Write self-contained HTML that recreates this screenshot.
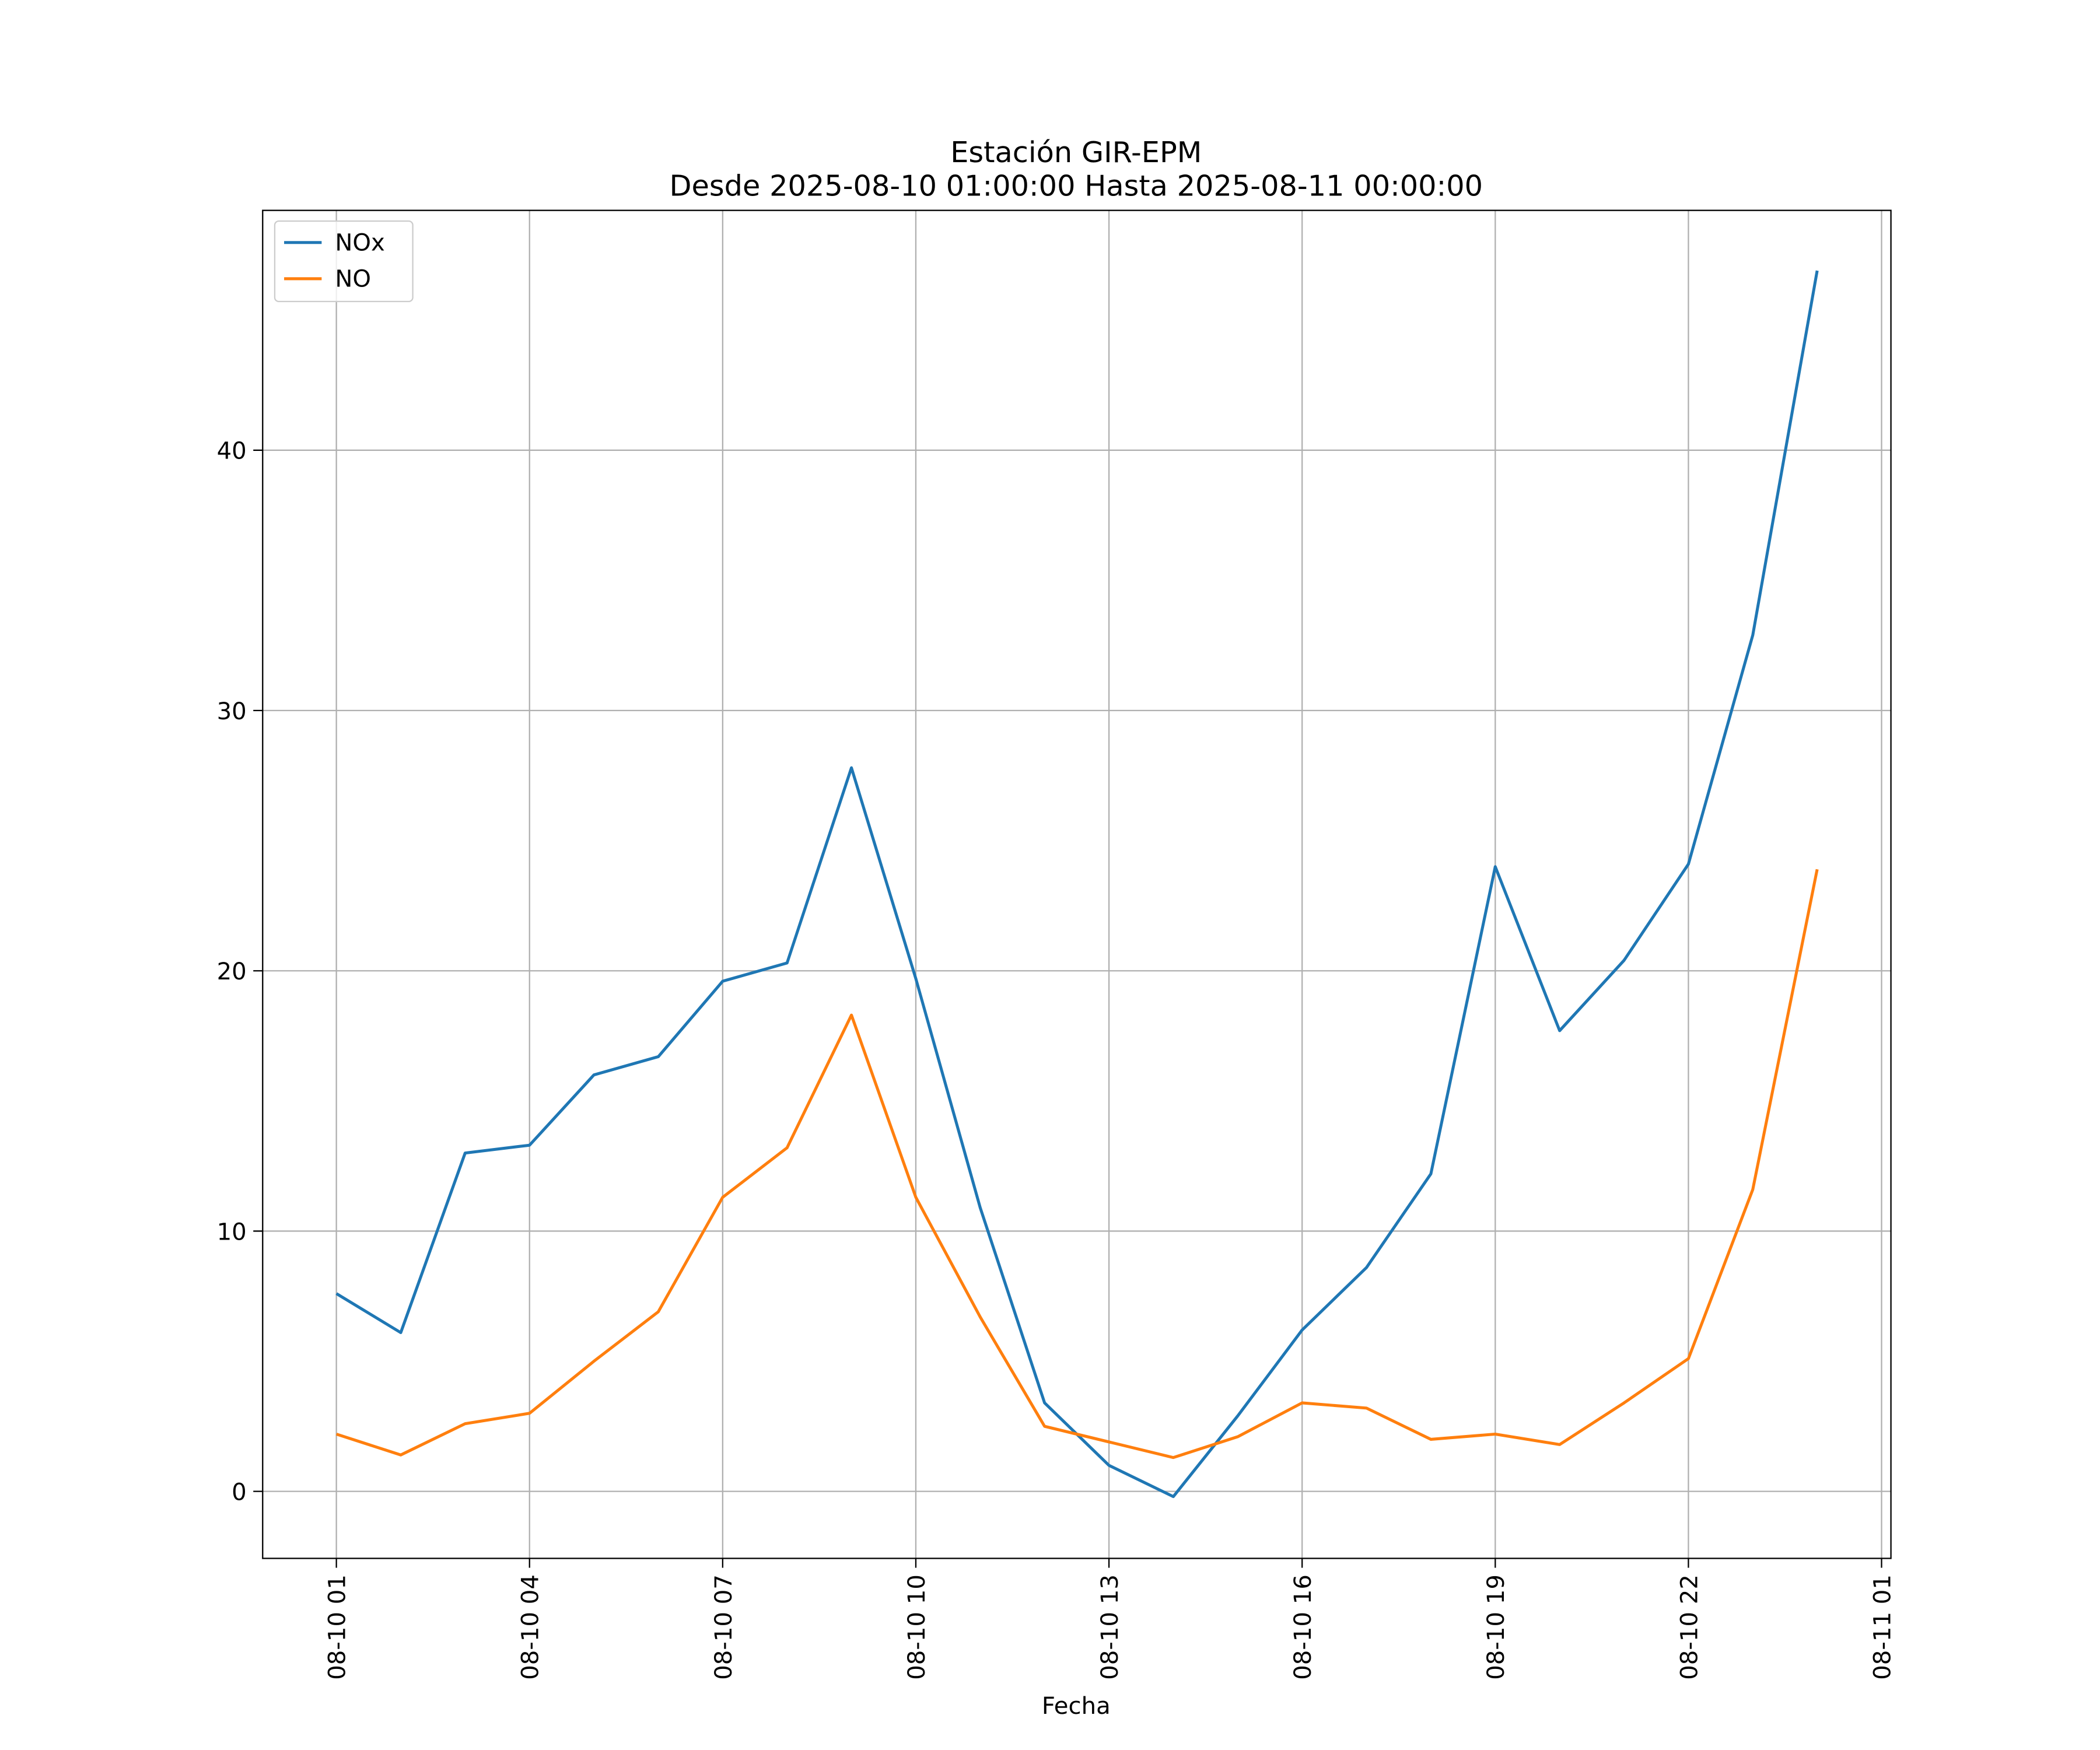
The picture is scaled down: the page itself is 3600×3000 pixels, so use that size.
<!DOCTYPE html>
<html><head><meta charset="utf-8"><style>
html,body{margin:0;padding:0;background:#fff}
svg{display:block}
text{font-family:"DejaVu Sans","Liberation Sans",sans-serif;fill:#000}
</style></head><body>
<svg width="3600" height="3000" viewBox="0 0 1567 1306" preserveAspectRatio="none" xmlns="http://www.w3.org/2000/svg">
<rect x="0" y="0" width="1567" height="1306" fill="#fff"/>
<g id="grid"></g>
<g id="series"></g>
<rect x="196" y="157" width="1215" height="1006" fill="none" stroke="#000" stroke-width="1"/>
<g id="xticks"></g>
<g id="yticks"></g>
<text x="803" y="121" text-anchor="middle" font-size="21.5">Estación GIR-EPM</text>
<text x="803" y="146" text-anchor="middle" font-size="21.5">Desde 2025-08-10 01:00:00 Hasta 2025-08-11 00:00:00</text>
<text x="803" y="1279" text-anchor="middle" font-size="17.5">Fecha</text>
<g>
<rect x="205" y="165" width="103" height="60" fill="#fff" fill-opacity="0.8" stroke="#ccc" rx="3"/>
<line x1="212" y1="181" x2="240" y2="181" stroke="#1f77b4" stroke-width="2.2"/>
<text x="250" y="187" font-size="17.5">NOx</text>
<line x1="212" y1="208" x2="240" y2="208" stroke="#ff7f0e" stroke-width="2.2"/>
<text x="250" y="214" font-size="17.5">NO</text>
</g>
</svg>
<script>
const hours=[1,2,3,4,5,6,7,8,9,10,11,12,13,14,15,16,17,18,19,20,21,22,23,24];
const noxValues=[7.6,6.1,13.0,13.3,16.0,16.7,19.6,20.3,27.8,19.7,10.9,3.4,1.0,-0.2,2.9,6.2,8.6,12.2,24.0,17.7,20.4,24.1,32.9,46.9];
const noValues=[2.2,1.4,2.6,3.0,5.0,6.9,11.3,13.2,18.3,11.3,6.7,2.5,1.9,1.3,2.1,3.4,3.2,2.0,2.2,1.8,3.4,5.1,11.6,23.9];
const xTickHours=[1,4,7,10,13,16,19,22,25];
const xTickLabels=["08-10 01","08-10 04","08-10 07","08-10 10","08-10 13","08-10 16","08-10 19","08-10 22","08-11 01"];
const yTicks=[0,10,20,30,40];
const NS="http://www.w3.org/2000/svg";
const xs=h=>251+(h-1)*(1153/24);
const ys=v=>1113-v*19.425;
function mk(tag,attrs,parent){const e=document.createElementNS(NS,tag);for(const k in attrs)e.setAttribute(k,attrs[k]);parent.appendChild(e);return e;}
const grid=document.getElementById('grid'),xt=document.getElementById('xticks'),yt=document.getElementById('yticks'),ser=document.getElementById('series');
xTickHours.forEach((h,i)=>{const x=xs(h);
 const g=mk('line',{x1:x,y1:157,x2:x,y2:1163,stroke:'#b0b0b0','stroke-width':1},grid);
 
 const t=mk('line',{x1:x,y1:1163,x2:x,y2:1170,stroke:'#000'},xt);
 
 const l=mk('text',{x:0,y:0,'font-size':17.5,'text-anchor':'end',transform:`translate(${x+6.5},1175) rotate(-90)`},xt);
 l.textContent=xTickLabels[i];
 
});
yTicks.forEach(v=>{const y=ys(v);
 const g=mk('line',{x1:196,y1:y,x2:1411,y2:y,stroke:'#b0b0b0','stroke-width':1},grid);
 
 const t=mk('line',{x1:189,y1:y,x2:196,y2:y,stroke:'#000'},yt);
 
 const l=mk('text',{x:184,y:y+6.5,'font-size':17.5,'text-anchor':'end'},yt);
 l.textContent=String(v);
 
});
function line(vals,color,name){
 const p=mk('polyline',{points:hours.map((h,i)=>xs(h)+','+ys(vals[i])).join(' '),fill:'none',stroke:color,'stroke-width':2.2,'stroke-linejoin':'round'},ser);
 
}
line(noxValues,'#1f77b4','nox-line');
line(noValues,'#ff7f0e','no-line');
</script>
</body></html>
